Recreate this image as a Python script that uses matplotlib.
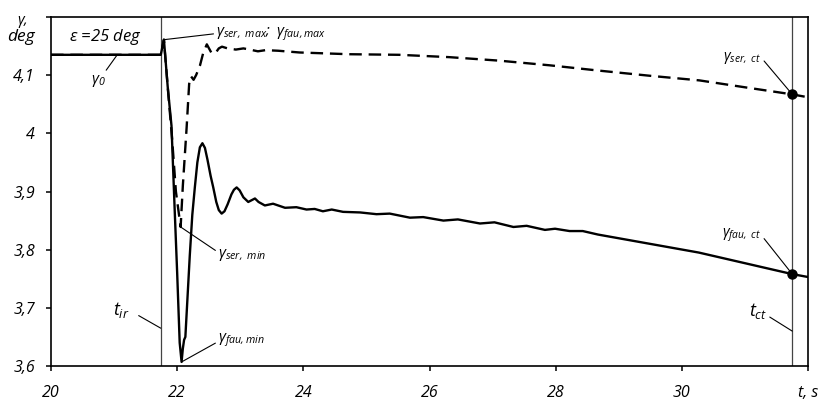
import matplotlib
matplotlib.use('Agg')
import matplotlib.pyplot as plt
from matplotlib.transforms import blended_transform_factory

plt.rcParams['font.family'] = ['Open Sans', 'DejaVu Sans']
plt.rcParams['font.style'] = 'italic'
plt.rcParams['mathtext.fontset'] = 'custom'
plt.rcParams['mathtext.it'] = 'Open Sans:italic'
plt.rcParams['mathtext.rm'] = 'Open Sans:italic'
plt.rcParams['mathtext.fallback'] = 'stixsans'

# ---------------- data ----------------
# faulted (solid) curve
t_fau = [20.0, 21.74, 21.79, 21.85, 21.91, 21.96, 22.00, 22.04, 22.07, 22.09, 22.11,
         22.13, 22.20, 22.24, 22.28, 22.32, 22.36, 22.40, 22.44, 22.48, 22.53, 22.572,
         22.62, 22.66, 22.705, 22.75, 22.80, 22.86, 22.90, 22.943, 22.99, 23.05, 23.127,
         23.18, 23.233, 23.29, 23.39, 23.52, 23.71, 23.89,
         24.05, 24.18, 24.31, 24.45, 24.63, 24.90, 25.16, 25.37, 25.69, 25.90, 26.22,
         26.45, 26.80, 27.03, 27.33, 27.54, 27.83, 27.99, 28.22, 28.43, 28.67, 30.27,
         31.75, 32.0]
g_fau = [4.135, 4.135, 4.161, 4.080, 4.013, 3.870, 3.760, 3.640, 3.607, 3.630, 3.645,
         3.650, 3.790, 3.860, 3.907, 3.950, 3.976, 3.983, 3.975, 3.955, 3.927, 3.907,
         3.882, 3.868, 3.862, 3.866, 3.878, 3.895, 3.903, 3.907, 3.902, 3.890, 3.882,
         3.885, 3.888, 3.882, 3.876, 3.879, 3.872, 3.873,
         3.869, 3.870, 3.866, 3.869, 3.865, 3.864, 3.861, 3.862, 3.855, 3.856, 3.850,
         3.852, 3.845, 3.847, 3.839, 3.841, 3.834, 3.836, 3.832, 3.832, 3.826, 3.795,
         3.758, 3.753]

# serviceable (dashed) curve
t_ser = [20.0, 21.74, 21.79, 21.85, 21.92, 21.98, 22.055, 22.09, 22.15, 22.19, 22.22,
         22.26, 22.30, 22.36, 22.41, 22.47, 22.54, 22.60, 22.66, 22.71, 22.80, 22.93,
         23.05, 23.15, 23.28, 23.40, 23.60, 23.94, 24.73, 25.52, 26.31, 27.10, 27.90,
         28.67, 29.49, 30.28, 31.07, 31.75, 32.0]
g_ser = [4.135, 4.135, 4.161, 4.080, 3.990, 3.900, 3.839, 3.910, 4.010, 4.085, 4.098,
         4.092, 4.100, 4.116, 4.137, 4.153, 4.139, 4.137, 4.146, 4.149, 4.146, 4.144,
         4.146, 4.144, 4.141, 4.143, 4.142, 4.139, 4.136, 4.135, 4.131, 4.125, 4.117,
         4.108, 4.099, 4.091, 4.078, 4.067, 4.062]

t_ir = 21.74
t_ct = 31.75
g_ser_ct = 4.067
g_fau_ct = 3.758

x_ticks = [20, 22, 24, 26, 28, 30, 32]
x_tick_labels = ['20', '22', '24', '26', '28', '30', 't, s']
y_ticks = [3.6, 3.7, 3.8, 3.9, 4.0, 4.1, 4.2]
y_tick_labels = ['3,6', '3,7', '3,8', '3,9', '4', '4,1', '']

# ---------------- figure ----------------
fig = plt.figure(figsize=(8.24, 4.01), dpi=100)
ax = fig.add_axes([51 / 824, 35 / 401, 757 / 824, 349 / 401])

ax.axvline(t_ir, color='#444444', lw=0.9, zorder=1)
ax.axvline(t_ct, color='#444444', lw=0.9, zorder=1)

ax.plot(t_fau, g_fau, color='black', lw=1.7, solid_joinstyle='round', zorder=3)
ax.plot(t_ser, g_ser, color='black', lw=1.7, dashes=(5.3, 2.9), zorder=3)
ax.plot([t_ct, t_ct], [g_ser_ct, g_fau_ct], 'o', color='black', ms=6.5, zorder=4)

ax.set_xlim(20, 32)
ax.set_ylim(3.6, 4.2)
ax.set_xticks(x_ticks)
ax.set_xticklabels(x_tick_labels)
ax.set_yticks(y_ticks)
ax.set_yticklabels(y_tick_labels)
ax.tick_params(axis='both', direction='out', length=3.5, width=1.1, labelsize=11.5)
ax.tick_params(axis='x', pad=10)
ax.tick_params(axis='y', pad=8)
for s in ax.spines.values():
    s.set_linewidth(1.2)
    s.set_color('black')

# y-axis title
tr = blended_transform_factory(ax.transAxes, ax.transData)
ax.text(-0.038, 4.192, r'$\gamma$,', transform=tr, ha='center', va='center', fontsize=10.5)
ax.text(-0.040, 4.166, 'deg', transform=tr, ha='center', va='center', fontsize=12.5)

# box label
ax.text((20 + t_ir) / 2, 4.166, r'$\varepsilon$ =25 deg', ha='center', va='center', fontsize=12)

lp = dict(arrowstyle='-', lw=0.8, color='black', shrinkA=0, shrinkB=0)

ax.annotate(r'$\gamma_{ser,\ max};\ \gamma_{fau,max}$', xy=(21.79, 4.161), xytext=(22.62, 4.170),
            ha='left', va='center', fontsize=11, arrowprops=dict(lp, relpos=(0, 0.55)))
ax.annotate(r'$\gamma_{0}$', xy=(21.05, 4.135), xytext=(20.75, 4.090),
            ha='center', va='center', fontsize=11, arrowprops=dict(lp, relpos=(0.9, 1.0)))
ax.annotate(r'$\gamma_{ser,\ min}$', xy=(22.055, 3.839), xytext=(22.65, 3.790),
            ha='left', va='center', fontsize=11, arrowprops=dict(lp, relpos=(0, 0.7)))
ax.annotate(r'$\gamma_{fau,min}$', xy=(22.07, 3.607), xytext=(22.65, 3.645),
            ha='left', va='center', fontsize=11, arrowprops=dict(lp, relpos=(0, 0.4)))
ax.annotate(r'$t_{ir}$', xy=(t_ir, 3.665), xytext=(21.25, 3.697),
            ha='right', va='center', fontsize=13, arrowprops=dict(lp, relpos=(1, 0.45), shrinkA=5))
ax.annotate(r'$t_{ct}$', xy=(t_ct, 3.660), xytext=(31.35, 3.694),
            ha='right', va='center', fontsize=13, arrowprops=dict(lp, relpos=(1, 0.3)))
ax.annotate(r'$\gamma_{ser,\ ct}$', xy=(t_ct, g_ser_ct), xytext=(31.26, 4.130),
            ha='right', va='center', fontsize=10.5, arrowprops=dict(lp, relpos=(1, 0.5)))
ax.annotate(r'$\gamma_{fau,\ ct}$', xy=(t_ct, g_fau_ct), xytext=(31.26, 3.825),
            ha='right', va='center', fontsize=10.5, arrowprops=dict(lp, relpos=(1, 0.5)))

fig.savefig('out.png', dpi=100)
